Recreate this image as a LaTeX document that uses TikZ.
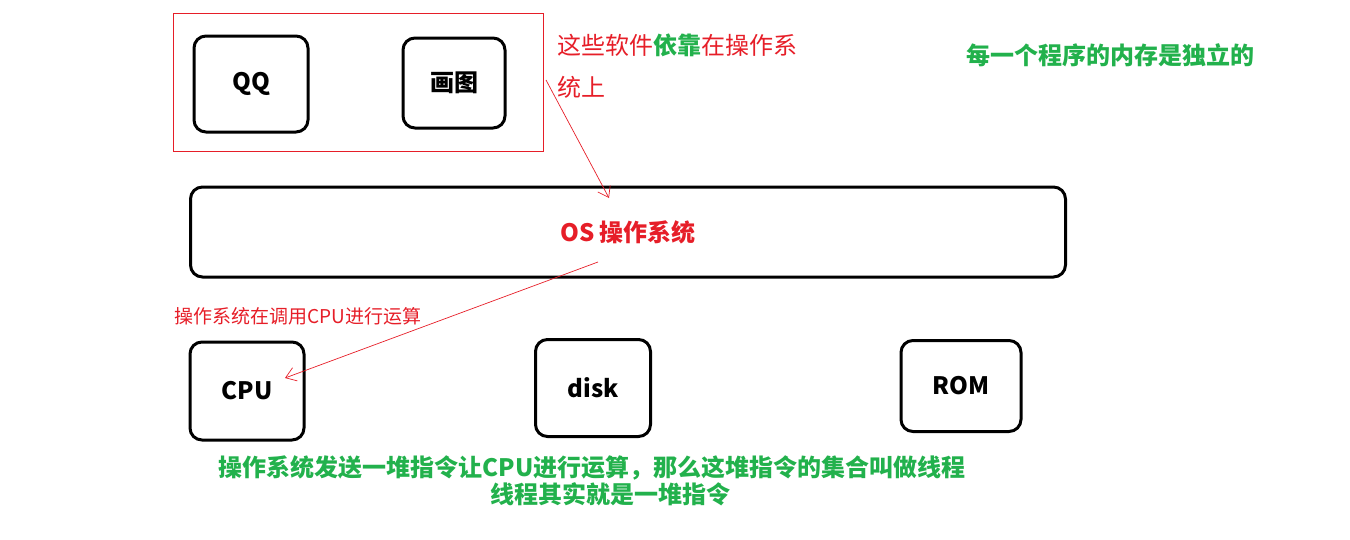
\documentclass[tikz,border=0pt]{standalone}
\usepackage{fontspec}
\setmainfont{Noto Sans CJK SC}
\usetikzlibrary{arrows.meta}
\definecolor{lblred}{RGB}{230,30,40}
\definecolor{lblgreen}{RGB}{34,177,76}
\tikzset{
  box/.style={draw=black,line width=3pt,rounded corners=12pt,font=\fontsize{24}{28}\selectfont\bfseries},
  redtxt/.style={text=lblred,font=\fontsize{24}{42}\selectfont,align=left},
  greentxt/.style={text=lblgreen,font=\fontsize{24}{26}\selectfont\bfseries},
  redarrow/.style={draw=lblred,line width=0.7pt,-{Straight Barb[length=10pt,width=14pt]}}
}
\begin{document}
\begin{tikzpicture}[x=1pt,y=-1pt]
\useasboundingbox (0,0) rectangle (1350,539);
% apps
\draw[draw=lblred,line width=1.5pt] (173.5,13.5) rectangle (543.5,151.5);
\node[box,minimum width=114pt,minimum height=96pt] (qq) at (251,84) {QQ};
\node[box,minimum width=102pt,minimum height=90pt] (paint) at (454,83) {画图};
\node[redtxt,anchor=north west] (rely) at (554,30) {这些软件\textcolor{lblgreen}{\bfseries 依靠}在操作系\\统上};
\node[greentxt] (mem) at (1110,55) {每一个程序的内存是独立的};
% os
\node[box,minimum width=875pt,minimum height=90pt,text=lblred] (os) at (628,232) {OS 操作系统};
% hardware
\node[box,minimum width=114pt,minimum height=98pt] (cpu) at (247,391) {CPU};
\node[box,minimum width=115pt,minimum height=97pt] (disk) at (593,388) {disk};
\node[box,minimum width=120pt,minimum height=91pt] (rom) at (961,386) {ROM};
\node[redtxt,font=\fontsize{19}{22}\selectfont,anchor=west] (call) at (171,316) {操作系统在调用CPU进行运算};
\node[greentxt] (cmd1) at (592,468) {操作系统发送一堆指令让CPU进行运算，那么这堆指令的集合叫做线程};
\node[greentxt] (cmd2) at (610,494) {线程其实就是一堆指令};
% arrows
\coordinate (a1) at (546,80);
\coordinate (a2) at (609,198);
\coordinate (b1) at (598,262);
\coordinate (b2) at (285,378);
\draw[redarrow] (a1) -- (a2);
\draw[redarrow] (b1) -- (b2);
\end{tikzpicture}
\end{document}
